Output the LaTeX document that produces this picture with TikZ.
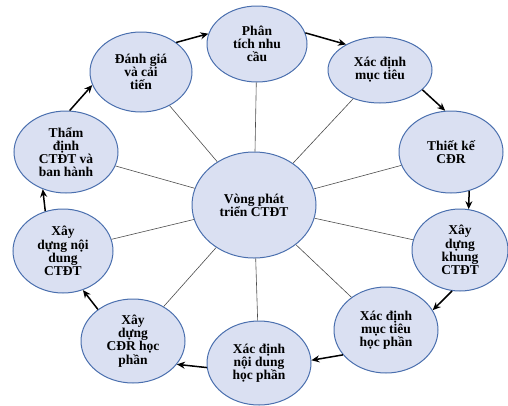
\documentclass[tikz,border=0pt]{standalone}
\usepackage{fontspec}
\setmainfont{Liberation Serif}
\usetikzlibrary{shapes.geometric,arrows.meta}
\definecolor{efill}{HTML}{DAE0F2}
\definecolor{edraw}{HTML}{4A6FAE}
\definecolor{spoke}{HTML}{4D4D4D}
\tikzset{
  stage/.style={ellipse, draw=edraw, fill=efill, line width=1pt, inner sep=0pt,
    align=center, font=\bfseries\fontsize{13.5}{13.2}\selectfont},
  spokeline/.style={draw=spoke, line width=0.6pt},
  flow/.style={draw=black, line width=1.5pt, -{Stealth[length=8pt,width=7pt]}}
}
\begin{document}
\begin{tikzpicture}[x=1pt,y=-1pt]
\useasboundingbox (0,0) rectangle (508,405);
% outer stages
\node[stage, minimum width=100pt, minimum height=76pt] (p) at (257,44) {Phân\\tích nhu\\cầu};
\node[stage, minimum width=104pt, minimum height=66pt] (m) at (380,70) {Xác định\\mục tiêu};
\node[stage, minimum width=104pt, minimum height=82pt] (t) at (451,152) {Thiết kế\\CĐR};
\node[stage, minimum width=96pt, minimum height=82pt] (k) at (460,250) {Xây\\dựng\\khung\\CTĐT};
\node[stage, minimum width=104pt, minimum height=86pt] (mh) at (386,330) {Xác định\\mục tiêu\\học phần};
\node[stage, minimum width=104pt, minimum height=84pt] (nh) at (259,363) {Xác định\\nội dung\\học phần};
\node[stage, minimum width=104pt, minimum height=84pt] (ch) at (133,341) {Xây\\dựng\\CĐR học\\phần};
\node[stage, minimum width=100pt, minimum height=84pt] (nd) at (63,251) {Xây\\dựng nội\\dung\\CTĐT};
\node[stage, minimum width=104pt, minimum height=82pt] (td) at (66,152) {Thẩm\\định\\CTĐT và\\ban hành};
\node[stage, minimum width=102pt, minimum height=80pt] (dg) at (141,72) {Đánh giá\\và cải\\tiến};
% centre
\node[stage, minimum width=124pt, minimum height=106pt] (c) at (254,205) {Vòng phát\\triển CTĐT};
% spokes
\foreach \n in {p,m,t,k,mh,nh,ch,nd,td,dg}
  \draw[spokeline] (c) -- (\n);
% cycle arrows
\draw[flow] (p.13) -- (m.143);
\draw[flow] (m.-25) -- (t.98);
\draw[flow] (t.-65) -- (k.78);
\draw[flow] (k.-101) -- (mh.23);
\draw[flow] (mh.210) -- (nh.3);
\draw[flow] (nh.185) -- (ch.-28);
\draw[flow] (ch.138) -- (nd.-63);
\draw[flow] (nd.114) -- (td.-122);
\draw[flow] (td.85) -- (dg.195);
\draw[flow] (dg.40) -- (p.168);
\end{tikzpicture}
\end{document}
